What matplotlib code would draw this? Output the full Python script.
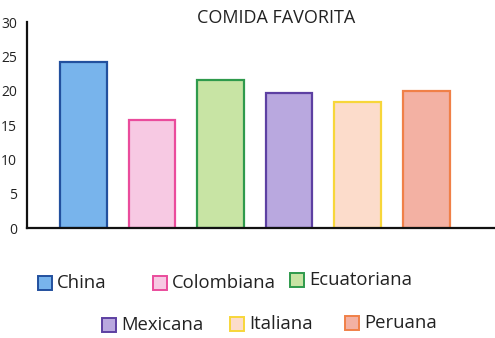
import matplotlib
matplotlib.use('Agg')
import matplotlib.pyplot as plt
from matplotlib.patches import Rectangle

# datos
comidas = ['China', 'Colombiana', 'Ecuatoriana', 'Mexicana', 'Italiana', 'Peruana']
votos = [24.2, 15.8, 21.6, 19.6, 18.4, 19.9]
relleno = ['#78b4ec', '#f7c9e3', '#c8e4a4', '#b9a8df', '#fcdccb', '#f3b1a3']
borde = ['#22509e', '#ea4c9c', '#2f9a4c', '#5d40a2', '#f7d63a', '#f08048']
yticks = [0, 5, 10, 15, 20, 25, 30]

plt.rcParams['font.family'] = ['Open Sans', 'DejaVu Sans']

fig = plt.figure(figsize=(4.95, 3.38), dpi=100)
ax = fig.add_axes([0.0545, 0.3254, 0.9455, 0.6095])

x = list(range(len(comidas)))
ax.bar(x, votos, width=0.68, color=relleno, edgecolor=borde, linewidth=1.6)

ax.set_ylim(0, 30)
ax.set_xlim(-0.82, 6.0)
ax.set_yticks(yticks)
ax.set_xticks([])
ax.tick_params(axis='y', length=0, pad=7, labelsize=10, labelcolor='#222222')
for s in ['top', 'right']:
    ax.spines[s].set_visible(False)
ax.spines['left'].set_linewidth(1.6)
ax.spines['bottom'].set_linewidth(1.6)
ax.spines['left'].set_color('#111111')
ax.spines['bottom'].set_color('#111111')

fig.text(276 / 495, 1 - 18 / 338, 'COMIDA FAVORITA', ha='center', va='center',
         fontsize=13, color='#222222')

# leyenda a mano, en dos filas
W, H = 495.0, 338.0
pos = [(38, 283), (153, 283), (290, 280), (102, 325), (230, 324), (345, 323)]
for i, (px, py) in enumerate(pos):
    r = Rectangle((px / W, 1 - (py + 7) / H), 14 / W, 14 / H, transform=fig.transFigure,
                  facecolor=relleno[i], edgecolor=borde[i], linewidth=1.4)
    fig.patches.append(r)
    fig.text((px + 19) / W, 1 - py / H, comidas[i], ha='left', va='center',
             fontsize=13.3, color='#222222')

fig.savefig('out.png', dpi=100)
